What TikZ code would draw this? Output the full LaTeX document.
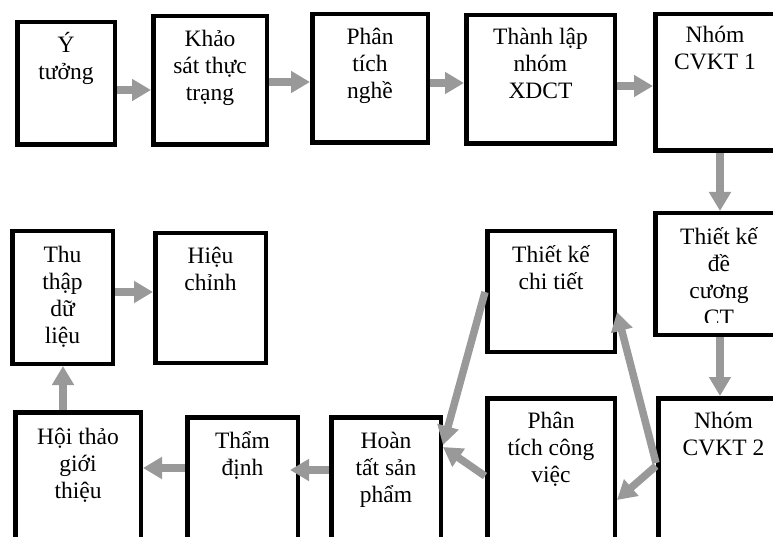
\documentclass[tikz,border=0pt]{standalone}
\usepackage{fontspec}
\setmainfont{Liberation Serif}
\usetikzlibrary{arrows.meta,calc}
\definecolor{arrgray}{RGB}{153,153,153}
\tikzset{
  box/.style={draw=black, line width=4.5pt, rectangle, inner sep=0pt},
  txt/.style={font=\fontsize{23.5}{27}\selectfont, align=flush center, text width=140pt, inner sep=0pt, anchor=base},
  arr/.style={draw=arrgray, line width=7.5pt, -{Triangle[width=21pt,length=19pt]}}
}
\begin{document}
\begin{tikzpicture}[x=1pt,y=-1pt]
\useasboundingbox (0,0) rectangle (773,537);
\clip (0,0) rectangle (773,537);
% boxes
\node[box, minimum width=97.5pt,  minimum height=122.5pt] (b1)  at (66,83.5) {};
\node[box, minimum width=113.5pt, minimum height=128.5pt] (b2)  at (210,80.5) {};
\node[box, minimum width=115.5pt, minimum height=128.5pt] (b3)  at (370,78.5) {};
\node[box, minimum width=148.5pt, minimum height=128.5pt] (b4)  at (540.5,79.5) {};
\node[box, minimum width=142.5pt, minimum height=136.5pt] (b5)  at (726.5,82.5) {};
\node[box, minimum width=142.5pt, minimum height=121.5pt] (b6)  at (726.5,274) {};
\node[box, minimum width=127.5pt, minimum height=120.5pt] (b7)  at (551,291.5) {};
\node[box, minimum width=139.5pt, minimum height=159.5pt] (b8)  at (728,478) {};
\node[box, minimum width=127.5pt, minimum height=159.5pt] (b9)  at (551,478) {};
\node[box, minimum width=109.5pt, minimum height=140.5pt] (b10) at (386,487.5) {};
\node[box, minimum width=110.5pt, minimum height=140.5pt] (b11) at (242.5,487.5) {};
\node[box, minimum width=125.5pt, minimum height=145.5pt] (b12) at (78,485) {};
\node[box, minimum width=100.5pt, minimum height=132.5pt] (b13) at (62.5,297.5) {};
\node[box, minimum width=110.5pt, minimum height=129.5pt] (b14) at (210.5,298) {};
% texts
\node[txt] (t1)  at ([yshift=-33pt]b1.north)  {Ý\\tưởng};
\node[txt] (t2)  at ([yshift=-33pt]b2.north)  {Khảo\\sát thực\\trạng};
\node[txt] (t3)  at ([yshift=-33pt]b3.north)  {Phân\\tích\\nghề};
\node[txt] (t4)  at ([yshift=-32pt]b4.north)  {Thành lập\\nhóm\\XDCT};
\node[txt] (t5)  at ([xshift=-11.5pt,yshift=-31pt]b5.north)  {Nhóm\\CVKT 1};
\begin{scope}
\clip ([xshift=-2pt]b6.north west) rectangle ($(b6.south east)+(0,-15)$);
\node[txt] (t6)  at ([xshift=-7.5pt,yshift=-34pt]b6.north)  {Thiết kế\\đề\\cương\\CT};
\end{scope}
\node[txt] (t7)  at ([yshift=-33pt]b7.north)  {Thiết kế\\chi tiết};
\node[txt] (t8)  at ([xshift=-4.5pt,yshift=-32pt]b8.north)  {Nhóm\\CVKT 2};
\node[txt] (t9)  at ([yshift=-32pt]b9.north)  {Phân\\tích công\\việc};
\node[txt] (t10) at ([yshift=-33pt]b10.north) {Hoàn\\tất sản\\phẩm};
\node[txt] (t11) at ([yshift=-33pt]b11.north) {Thẩm\\định};
\node[txt] (t12) at ([yshift=-34pt]b12.north) {Hội thảo\\giới\\thiệu};
\node[txt] (t13) at ([yshift=-33pt]b13.north) {Thu\\thập\\dữ\\liệu};
\node[txt] (t14) at ([yshift=-32pt]b14.north) {Hiệu\\chỉnh};
% arrows
\draw[arr] (b1.east |- 0,90) -- (b2.west |- 0,90);
\draw[arr] (b2.east |- 0,82) -- (b3.west |- 0,82);
\draw[arr] (b3.east |- 0,83) -- (b4.west |- 0,83);
\draw[arr] (b4.east |- 0,86) -- (b5.west |- 0,86);
\draw[arr] (b5.south -| 720,0) -- (b6.north -| 720,0);
\draw[arr] (b6.south -| 720,0) -- (b8.north -| 720,0);
\draw[arr] (b8.west |- 0,463) -- (b7.east |- 0,312);
\draw[arr] (b8.west |- 0,466) -- (b9.east |- 0,500);
\draw[arr] (b7.west |- 0,292) -- (b10.east |- 0,445);
\draw[arr] (b9.west |- 0,476) -- (b10.east |- 0,447);
\draw[arr] (b10.west |- 0,470) -- ($(b11.east |- 0,470)+(-10,0)$);
\draw[arr] (b11.west |- 0,468) -- (b12.east |- 0,468);
\draw[arr] (b12.north -| 63,0) -- (b13.south -| 63,0);
\draw[arr] (b13.east |- 0,292) -- (b14.west |- 0,292);
\end{tikzpicture}
\end{document}
